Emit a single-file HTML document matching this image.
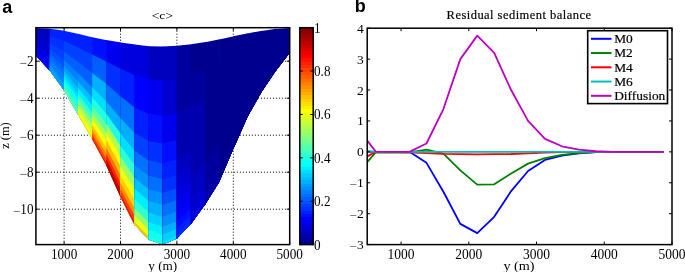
<!DOCTYPE html>
<html><head><meta charset="utf-8"><style>
html,body{margin:0;padding:0;background:#fff;width:685px;height:272px;overflow:hidden;}
svg{will-change:transform;}
text{font-family:"Liberation Serif",serif;fill:#000;}
</style></head><body>
<svg width="685" height="272" viewBox="0 0 685 272" style="display:block;font-family:'Liberation Serif',serif;"><defs><linearGradient id="cbg" x1="0" y1="1" x2="0" y2="0"><stop offset="0.00000" stop-color="#00008f"/><stop offset="0.01562" stop-color="#00008f"/><stop offset="0.01562" stop-color="#00009f"/><stop offset="0.03125" stop-color="#00009f"/><stop offset="0.03125" stop-color="#0000af"/><stop offset="0.04688" stop-color="#0000af"/><stop offset="0.04688" stop-color="#0000bf"/><stop offset="0.06250" stop-color="#0000bf"/><stop offset="0.06250" stop-color="#0000cf"/><stop offset="0.07812" stop-color="#0000cf"/><stop offset="0.07812" stop-color="#0000df"/><stop offset="0.09375" stop-color="#0000df"/><stop offset="0.09375" stop-color="#0000ef"/><stop offset="0.10938" stop-color="#0000ef"/><stop offset="0.10938" stop-color="#0000ff"/><stop offset="0.12500" stop-color="#0000ff"/><stop offset="0.12500" stop-color="#0010ff"/><stop offset="0.14062" stop-color="#0010ff"/><stop offset="0.14062" stop-color="#0020ff"/><stop offset="0.15625" stop-color="#0020ff"/><stop offset="0.15625" stop-color="#0030ff"/><stop offset="0.17188" stop-color="#0030ff"/><stop offset="0.17188" stop-color="#0040ff"/><stop offset="0.18750" stop-color="#0040ff"/><stop offset="0.18750" stop-color="#0050ff"/><stop offset="0.20312" stop-color="#0050ff"/><stop offset="0.20312" stop-color="#0060ff"/><stop offset="0.21875" stop-color="#0060ff"/><stop offset="0.21875" stop-color="#0070ff"/><stop offset="0.23438" stop-color="#0070ff"/><stop offset="0.23438" stop-color="#0080ff"/><stop offset="0.25000" stop-color="#0080ff"/><stop offset="0.25000" stop-color="#008fff"/><stop offset="0.26562" stop-color="#008fff"/><stop offset="0.26562" stop-color="#009fff"/><stop offset="0.28125" stop-color="#009fff"/><stop offset="0.28125" stop-color="#00afff"/><stop offset="0.29688" stop-color="#00afff"/><stop offset="0.29688" stop-color="#00bfff"/><stop offset="0.31250" stop-color="#00bfff"/><stop offset="0.31250" stop-color="#00cfff"/><stop offset="0.32812" stop-color="#00cfff"/><stop offset="0.32812" stop-color="#00dfff"/><stop offset="0.34375" stop-color="#00dfff"/><stop offset="0.34375" stop-color="#00efff"/><stop offset="0.35938" stop-color="#00efff"/><stop offset="0.35938" stop-color="#00ffff"/><stop offset="0.37500" stop-color="#00ffff"/><stop offset="0.37500" stop-color="#10ffef"/><stop offset="0.39062" stop-color="#10ffef"/><stop offset="0.39062" stop-color="#20ffdf"/><stop offset="0.40625" stop-color="#20ffdf"/><stop offset="0.40625" stop-color="#30ffcf"/><stop offset="0.42188" stop-color="#30ffcf"/><stop offset="0.42188" stop-color="#40ffbf"/><stop offset="0.43750" stop-color="#40ffbf"/><stop offset="0.43750" stop-color="#50ffaf"/><stop offset="0.45312" stop-color="#50ffaf"/><stop offset="0.45312" stop-color="#60ff9f"/><stop offset="0.46875" stop-color="#60ff9f"/><stop offset="0.46875" stop-color="#70ff8f"/><stop offset="0.48438" stop-color="#70ff8f"/><stop offset="0.48438" stop-color="#80ff80"/><stop offset="0.50000" stop-color="#80ff80"/><stop offset="0.50000" stop-color="#8fff70"/><stop offset="0.51562" stop-color="#8fff70"/><stop offset="0.51562" stop-color="#9fff60"/><stop offset="0.53125" stop-color="#9fff60"/><stop offset="0.53125" stop-color="#afff50"/><stop offset="0.54688" stop-color="#afff50"/><stop offset="0.54688" stop-color="#bfff40"/><stop offset="0.56250" stop-color="#bfff40"/><stop offset="0.56250" stop-color="#cfff30"/><stop offset="0.57812" stop-color="#cfff30"/><stop offset="0.57812" stop-color="#dfff20"/><stop offset="0.59375" stop-color="#dfff20"/><stop offset="0.59375" stop-color="#efff10"/><stop offset="0.60938" stop-color="#efff10"/><stop offset="0.60938" stop-color="#ffff00"/><stop offset="0.62500" stop-color="#ffff00"/><stop offset="0.62500" stop-color="#ffef00"/><stop offset="0.64062" stop-color="#ffef00"/><stop offset="0.64062" stop-color="#ffdf00"/><stop offset="0.65625" stop-color="#ffdf00"/><stop offset="0.65625" stop-color="#ffcf00"/><stop offset="0.67188" stop-color="#ffcf00"/><stop offset="0.67188" stop-color="#ffbf00"/><stop offset="0.68750" stop-color="#ffbf00"/><stop offset="0.68750" stop-color="#ffaf00"/><stop offset="0.70312" stop-color="#ffaf00"/><stop offset="0.70312" stop-color="#ff9f00"/><stop offset="0.71875" stop-color="#ff9f00"/><stop offset="0.71875" stop-color="#ff8f00"/><stop offset="0.73438" stop-color="#ff8f00"/><stop offset="0.73438" stop-color="#ff8000"/><stop offset="0.75000" stop-color="#ff8000"/><stop offset="0.75000" stop-color="#ff7000"/><stop offset="0.76562" stop-color="#ff7000"/><stop offset="0.76562" stop-color="#ff6000"/><stop offset="0.78125" stop-color="#ff6000"/><stop offset="0.78125" stop-color="#ff5000"/><stop offset="0.79688" stop-color="#ff5000"/><stop offset="0.79688" stop-color="#ff4000"/><stop offset="0.81250" stop-color="#ff4000"/><stop offset="0.81250" stop-color="#ff3000"/><stop offset="0.82812" stop-color="#ff3000"/><stop offset="0.82812" stop-color="#ff2000"/><stop offset="0.84375" stop-color="#ff2000"/><stop offset="0.84375" stop-color="#ff1000"/><stop offset="0.85938" stop-color="#ff1000"/><stop offset="0.85938" stop-color="#ff0000"/><stop offset="0.87500" stop-color="#ff0000"/><stop offset="0.87500" stop-color="#ef0000"/><stop offset="0.89062" stop-color="#ef0000"/><stop offset="0.89062" stop-color="#df0000"/><stop offset="0.90625" stop-color="#df0000"/><stop offset="0.90625" stop-color="#cf0000"/><stop offset="0.92188" stop-color="#cf0000"/><stop offset="0.92188" stop-color="#bf0000"/><stop offset="0.93750" stop-color="#bf0000"/><stop offset="0.93750" stop-color="#af0000"/><stop offset="0.95312" stop-color="#af0000"/><stop offset="0.95312" stop-color="#9f0000"/><stop offset="0.96875" stop-color="#9f0000"/><stop offset="0.96875" stop-color="#8f0000"/><stop offset="0.98438" stop-color="#8f0000"/><stop offset="0.98438" stop-color="#800000"/><stop offset="1.00000" stop-color="#800000"/></linearGradient><clipPath id="clipa"><rect x="35.90" y="27.70" width="253.80" height="216.90"/></clipPath><clipPath id="clipb"><rect x="367.20" y="28.20" width="304.80" height="216.40"/></clipPath></defs><g stroke="#000" stroke-width="1" stroke-dasharray="1,2"><line x1="64.10" y1="27.70" x2="64.10" y2="244.60"/><line x1="120.50" y1="27.70" x2="120.50" y2="244.60"/><line x1="176.90" y1="27.70" x2="176.90" y2="244.60"/><line x1="233.30" y1="27.70" x2="233.30" y2="244.60"/><line x1="35.90" y1="61.20" x2="289.70" y2="61.20"/><line x1="35.90" y1="98.20" x2="289.70" y2="98.20"/><line x1="35.90" y1="135.20" x2="289.70" y2="135.20"/><line x1="35.90" y1="172.20" x2="289.70" y2="172.20"/><line x1="35.90" y1="209.20" x2="289.70" y2="209.20"/></g>
<g clip-path="url(#clipa)"><path d="M35.70 28.00L50.51 28.73L50.51 71.24L35.70 55.50Z" fill="#0000bf"/>
<path d="M35.70 32.67L50.51 35.96L50.51 71.24L35.70 55.50Z" fill="#0000bf"/>
<path d="M35.70 37.62L50.51 43.61L50.51 71.24L35.70 55.50Z" fill="#0000cf"/>
<path d="M35.70 41.48L50.51 49.56L50.51 71.24L35.70 55.50Z" fill="#0000cf"/>
<path d="M35.70 44.22L50.51 53.82L50.51 71.24L35.70 55.50Z" fill="#0000df"/>
<path d="M35.70 46.42L50.51 57.22L50.51 71.24L35.70 55.50Z" fill="#0000df"/>
<path d="M35.70 48.35L50.51 60.19L50.51 71.24L35.70 55.50Z" fill="#0000ef"/>
<path d="M35.70 50.00L50.51 62.74L50.51 71.24L35.70 55.50Z" fill="#0000ef"/>
<path d="M35.70 51.65L50.51 65.29L50.51 71.24L35.70 55.50Z" fill="#0000ef"/>
<path d="M35.70 53.03L50.51 67.42L50.51 71.24L35.70 55.50Z" fill="#0000ff"/>
<path d="M35.70 54.12L50.51 69.12L50.51 71.24L35.70 55.50Z" fill="#0000ff"/>
<path d="M35.70 55.09L50.51 70.61L50.51 71.24L35.70 55.50Z" fill="#0000ff"/>
<path d="M49.81 28.70L64.62 30.80L64.62 90.97L49.81 70.50Z" fill="#0020ff"/>
<path d="M49.81 35.81L64.62 41.03L64.62 90.97L49.81 70.50Z" fill="#0030ff"/>
<path d="M49.81 43.33L64.62 51.86L64.62 90.97L49.81 70.50Z" fill="#0040ff"/>
<path d="M49.81 49.18L64.62 60.28L64.62 90.97L49.81 70.50Z" fill="#0050ff"/>
<path d="M49.81 53.36L64.62 66.30L64.62 90.97L49.81 70.50Z" fill="#0060ff"/>
<path d="M49.81 56.71L64.62 71.11L64.62 90.97L49.81 70.50Z" fill="#0070ff"/>
<path d="M49.81 59.63L64.62 75.32L64.62 90.97L49.81 70.50Z" fill="#0080ff"/>
<path d="M49.81 62.14L64.62 78.93L64.62 90.97L49.81 70.50Z" fill="#0080ff"/>
<path d="M49.81 64.65L64.62 82.54L64.62 90.97L49.81 70.50Z" fill="#008fff"/>
<path d="M49.81 66.74L64.62 85.55L64.62 90.97L49.81 70.50Z" fill="#009fff"/>
<path d="M49.81 68.41L64.62 87.96L64.62 90.97L49.81 70.50Z" fill="#009fff"/>
<path d="M49.81 69.87L64.62 90.06L64.62 90.97L49.81 70.50Z" fill="#00afff"/>
<path d="M63.92 30.70L78.73 33.95L78.73 115.72L63.92 90.00Z" fill="#0020ff"/>
<path d="M63.92 40.78L78.73 47.85L78.73 115.72L63.92 90.00Z" fill="#0040ff"/>
<path d="M63.92 51.45L78.73 62.57L78.73 115.72L63.92 90.00Z" fill="#0060ff"/>
<path d="M63.92 59.76L78.73 74.02L78.73 115.72L63.92 90.00Z" fill="#0080ff"/>
<path d="M63.92 65.69L78.73 82.19L78.73 115.72L63.92 90.00Z" fill="#009fff"/>
<path d="M63.92 70.43L78.73 88.73L78.73 115.72L63.92 90.00Z" fill="#00bfff"/>
<path d="M63.92 74.58L78.73 94.46L78.73 115.72L63.92 90.00Z" fill="#00dfff"/>
<path d="M63.92 78.14L78.73 99.36L78.73 115.72L63.92 90.00Z" fill="#00ffff"/>
<path d="M63.92 81.70L78.73 104.27L78.73 115.72L63.92 90.00Z" fill="#20ffdf"/>
<path d="M63.92 84.66L78.73 108.36L78.73 115.72L63.92 90.00Z" fill="#40ffbf"/>
<path d="M63.92 87.03L78.73 111.63L78.73 115.72L63.92 90.00Z" fill="#50ffaf"/>
<path d="M63.92 89.11L78.73 114.49L78.73 115.72L63.92 90.00Z" fill="#60ff9f"/>
<path d="M78.03 33.80L92.84 37.47L92.84 140.22L78.03 114.50Z" fill="#0020ff"/>
<path d="M78.03 47.52L92.84 54.94L92.84 140.22L78.03 114.50Z" fill="#0040ff"/>
<path d="M78.03 62.04L92.84 73.43L92.84 140.22L78.03 114.50Z" fill="#0060ff"/>
<path d="M78.03 73.34L92.84 87.82L92.84 140.22L78.03 114.50Z" fill="#008fff"/>
<path d="M78.03 81.41L92.84 98.09L92.84 140.22L78.03 114.50Z" fill="#00bfff"/>
<path d="M78.03 87.87L92.84 106.31L92.84 140.22L78.03 114.50Z" fill="#00efff"/>
<path d="M78.03 93.52L92.84 113.50L92.84 140.22L78.03 114.50Z" fill="#30ffcf"/>
<path d="M78.03 98.36L92.84 119.67L92.84 140.22L78.03 114.50Z" fill="#70ff8f"/>
<path d="M78.03 103.20L92.84 125.83L92.84 140.22L78.03 114.50Z" fill="#afff50"/>
<path d="M78.03 107.24L92.84 130.97L92.84 140.22L78.03 114.50Z" fill="#dfff20"/>
<path d="M78.03 110.46L92.84 135.08L92.84 140.22L78.03 114.50Z" fill="#ffff00"/>
<path d="M78.03 113.29L92.84 138.67L92.84 140.22L78.03 114.50Z" fill="#ffdf00"/>
<path d="M92.14 37.30L106.96 40.24L106.96 166.29L92.14 139.00Z" fill="#0010ff"/>
<path d="M92.14 54.59L106.96 61.67L106.96 166.29L92.14 139.00Z" fill="#0060ff"/>
<path d="M92.14 72.89L106.96 84.36L106.96 166.29L92.14 139.00Z" fill="#00afff"/>
<path d="M92.14 87.13L106.96 102.00L106.96 166.29L92.14 139.00Z" fill="#00dfff"/>
<path d="M92.14 97.30L106.96 114.61L106.96 166.29L92.14 139.00Z" fill="#20ffdf"/>
<path d="M92.14 105.44L106.96 124.69L106.96 166.29L92.14 139.00Z" fill="#60ff9f"/>
<path d="M92.14 112.56L106.96 133.52L106.96 166.29L92.14 139.00Z" fill="#afff50"/>
<path d="M92.14 118.66L106.96 141.08L106.96 166.29L92.14 139.00Z" fill="#ffff00"/>
<path d="M92.14 124.76L106.96 148.64L106.96 166.29L92.14 139.00Z" fill="#ffbf00"/>
<path d="M92.14 129.85L106.96 154.95L106.96 166.29L92.14 139.00Z" fill="#ff8000"/>
<path d="M92.14 133.91L106.96 159.99L106.96 166.29L92.14 139.00Z" fill="#ff4000"/>
<path d="M92.14 137.47L106.96 164.40L106.96 166.29L92.14 139.00Z" fill="#ff0000"/>
<path d="M106.26 40.10L121.07 42.51L121.07 198.06L106.26 165.00Z" fill="#0000ef"/>
<path d="M106.26 61.33L121.07 68.96L121.07 198.06L106.26 165.00Z" fill="#0030ff"/>
<path d="M106.26 83.81L121.07 96.96L121.07 198.06L106.26 165.00Z" fill="#0070ff"/>
<path d="M106.26 101.30L121.07 118.73L121.07 198.06L106.26 165.00Z" fill="#00afff"/>
<path d="M106.26 113.79L121.07 134.29L121.07 198.06L106.26 165.00Z" fill="#20ffdf"/>
<path d="M106.26 123.78L121.07 146.73L121.07 198.06L106.26 165.00Z" fill="#afff50"/>
<path d="M106.26 132.53L121.07 157.62L121.07 198.06L106.26 165.00Z" fill="#ffff00"/>
<path d="M106.26 140.02L121.07 166.95L121.07 198.06L106.26 165.00Z" fill="#ffbf00"/>
<path d="M106.26 147.51L121.07 176.29L121.07 198.06L106.26 165.00Z" fill="#ff7000"/>
<path d="M106.26 153.76L121.07 184.06L121.07 198.06L106.26 165.00Z" fill="#ff2000"/>
<path d="M106.26 158.75L121.07 190.29L121.07 198.06L106.26 165.00Z" fill="#cf0000"/>
<path d="M106.26 163.13L121.07 195.73L121.07 198.06L106.26 165.00Z" fill="#9f0000"/>
<path d="M120.37 42.40L135.18 44.60L135.18 225.89L120.37 196.50Z" fill="#0000df"/>
<path d="M120.37 68.60L135.18 75.42L135.18 225.89L120.37 196.50Z" fill="#0020ff"/>
<path d="M120.37 96.33L135.18 108.05L135.18 225.89L120.37 196.50Z" fill="#0070ff"/>
<path d="M120.37 117.91L135.18 133.43L135.18 225.89L120.37 196.50Z" fill="#00afff"/>
<path d="M120.37 133.32L135.18 151.56L135.18 225.89L120.37 196.50Z" fill="#00dfff"/>
<path d="M120.37 145.65L135.18 166.06L135.18 225.89L120.37 196.50Z" fill="#30ffcf"/>
<path d="M120.37 156.43L135.18 178.75L135.18 225.89L120.37 196.50Z" fill="#9fff60"/>
<path d="M120.37 165.68L135.18 189.63L135.18 225.89L120.37 196.50Z" fill="#efff10"/>
<path d="M120.37 174.93L135.18 200.51L135.18 225.89L120.37 196.50Z" fill="#ffcf00"/>
<path d="M120.37 182.63L135.18 209.57L135.18 225.89L120.37 196.50Z" fill="#ff8f00"/>
<path d="M120.37 188.79L135.18 216.82L135.18 225.89L120.37 196.50Z" fill="#ff4000"/>
<path d="M120.37 194.19L135.18 223.17L135.18 225.89L120.37 196.50Z" fill="#ff0000"/>
<path d="M134.48 44.50L149.29 46.28L149.29 240.24L134.48 224.50Z" fill="#0000df"/>
<path d="M134.48 75.10L149.29 79.26L149.29 240.24L134.48 224.50Z" fill="#0000ff"/>
<path d="M134.48 107.50L149.29 114.17L149.29 240.24L134.48 224.50Z" fill="#0020ff"/>
<path d="M134.48 132.70L149.29 141.32L149.29 240.24L134.48 224.50Z" fill="#0040ff"/>
<path d="M134.48 150.70L149.29 160.72L149.29 240.24L134.48 224.50Z" fill="#0070ff"/>
<path d="M134.48 165.10L149.29 176.24L149.29 240.24L134.48 224.50Z" fill="#008fff"/>
<path d="M134.48 177.70L149.29 189.81L149.29 240.24L134.48 224.50Z" fill="#00bfff"/>
<path d="M134.48 188.50L149.29 201.45L149.29 240.24L134.48 224.50Z" fill="#00efff"/>
<path d="M134.48 199.30L149.29 213.09L149.29 240.24L134.48 224.50Z" fill="#30ffcf"/>
<path d="M134.48 208.30L149.29 222.79L149.29 240.24L134.48 224.50Z" fill="#8fff70"/>
<path d="M134.48 215.50L149.29 230.55L149.29 240.24L134.48 224.50Z" fill="#efff10"/>
<path d="M134.48 221.80L149.29 237.33L149.29 240.24L134.48 224.50Z" fill="#ffbf00"/>
<path d="M148.59 46.20L163.40 46.62L163.40 244.75L148.59 239.50Z" fill="#0000bf"/>
<path d="M148.59 79.06L163.40 80.30L163.40 244.75L148.59 239.50Z" fill="#0000ef"/>
<path d="M148.59 113.86L163.40 115.96L163.40 244.75L148.59 239.50Z" fill="#0010ff"/>
<path d="M148.59 140.92L163.40 143.70L163.40 244.75L148.59 239.50Z" fill="#0030ff"/>
<path d="M148.59 160.25L163.40 163.52L163.40 244.75L148.59 239.50Z" fill="#0050ff"/>
<path d="M148.59 175.71L163.40 179.37L163.40 244.75L148.59 239.50Z" fill="#0070ff"/>
<path d="M148.59 189.24L163.40 193.23L163.40 244.75L148.59 239.50Z" fill="#008fff"/>
<path d="M148.59 200.84L163.40 205.12L163.40 244.75L148.59 239.50Z" fill="#00afff"/>
<path d="M148.59 212.44L163.40 217.01L163.40 244.75L148.59 239.50Z" fill="#00cfff"/>
<path d="M148.59 222.10L163.40 226.92L163.40 244.75L148.59 239.50Z" fill="#00efff"/>
<path d="M148.59 229.83L163.40 234.84L163.40 244.75L148.59 239.50Z" fill="#10ffef"/>
<path d="M148.59 236.60L163.40 241.78L163.40 244.75L148.59 239.50Z" fill="#20ffdf"/>
<path d="M162.70 46.60L177.51 45.76L177.51 238.20L162.70 244.50Z" fill="#0000bf"/>
<path d="M162.70 80.24L177.51 78.48L177.51 238.20L162.70 244.50Z" fill="#0000cf"/>
<path d="M162.70 115.87L177.51 113.12L177.51 238.20L162.70 244.50Z" fill="#0000ef"/>
<path d="M162.70 143.57L177.51 140.06L177.51 238.20L162.70 244.50Z" fill="#0010ff"/>
<path d="M162.70 163.36L177.51 159.30L177.51 238.20L162.70 244.50Z" fill="#0020ff"/>
<path d="M162.70 179.19L177.51 174.70L177.51 238.20L162.70 244.50Z" fill="#0030ff"/>
<path d="M162.70 193.05L177.51 188.17L177.51 238.20L162.70 244.50Z" fill="#0050ff"/>
<path d="M162.70 204.92L177.51 199.71L177.51 238.20L162.70 244.50Z" fill="#0070ff"/>
<path d="M162.70 216.79L177.51 211.26L177.51 238.20L162.70 244.50Z" fill="#008fff"/>
<path d="M162.70 226.69L177.51 220.88L177.51 238.20L162.70 244.50Z" fill="#00afff"/>
<path d="M162.70 234.60L177.51 228.58L177.51 238.20L162.70 244.50Z" fill="#00cfff"/>
<path d="M162.70 241.53L177.51 235.32L177.51 238.20L162.70 244.50Z" fill="#00dfff"/>
<path d="M176.81 45.80L191.62 44.23L191.62 223.28L176.81 238.50Z" fill="#00009f"/>
<path d="M176.81 78.56L191.62 74.66L191.62 223.28L176.81 238.50Z" fill="#00009f"/>
<path d="M176.81 113.24L191.62 106.89L191.62 223.28L176.81 238.50Z" fill="#0000af"/>
<path d="M176.81 140.22L191.62 131.96L191.62 223.28L176.81 238.50Z" fill="#0000af"/>
<path d="M176.81 159.49L191.62 149.87L191.62 223.28L176.81 238.50Z" fill="#0000bf"/>
<path d="M176.81 174.91L191.62 164.19L191.62 223.28L176.81 238.50Z" fill="#0000cf"/>
<path d="M176.81 188.40L191.62 176.73L191.62 223.28L176.81 238.50Z" fill="#0000df"/>
<path d="M176.81 199.96L191.62 187.47L191.62 223.28L176.81 238.50Z" fill="#0000ef"/>
<path d="M176.81 211.52L191.62 198.21L191.62 223.28L176.81 238.50Z" fill="#0000ff"/>
<path d="M176.81 221.16L191.62 207.17L191.62 223.28L176.81 238.50Z" fill="#0010ff"/>
<path d="M176.81 228.86L191.62 214.33L191.62 223.28L176.81 238.50Z" fill="#0020ff"/>
<path d="M176.81 235.61L191.62 220.59L191.62 223.28L176.81 238.50Z" fill="#0030ff"/>
<path d="M190.92 44.30L205.73 42.10L205.73 203.53L190.92 224.00Z" fill="#00008f"/>
<path d="M190.92 74.85L205.73 69.54L205.73 203.53L190.92 224.00Z" fill="#00009f"/>
<path d="M190.92 107.19L205.73 98.60L205.73 203.53L190.92 224.00Z" fill="#0000af"/>
<path d="M190.92 132.35L205.73 121.20L205.73 203.53L190.92 224.00Z" fill="#0000af"/>
<path d="M190.92 150.32L205.73 137.34L205.73 203.53L190.92 224.00Z" fill="#0000af"/>
<path d="M190.92 164.70L205.73 150.26L205.73 203.53L190.92 224.00Z" fill="#0000af"/>
<path d="M190.92 177.28L205.73 161.56L205.73 203.53L190.92 224.00Z" fill="#0000bf"/>
<path d="M190.92 188.06L205.73 171.25L205.73 203.53L190.92 224.00Z" fill="#0000bf"/>
<path d="M190.92 198.84L205.73 180.93L205.73 203.53L190.92 224.00Z" fill="#0000cf"/>
<path d="M190.92 207.83L205.73 189.00L205.73 203.53L190.92 224.00Z" fill="#0000cf"/>
<path d="M190.92 215.01L205.73 195.46L205.73 203.53L190.92 224.00Z" fill="#0000df"/>
<path d="M190.92 221.30L205.73 201.11L205.73 203.53L190.92 224.00Z" fill="#0000df"/>
<path d="M205.03 42.20L219.84 39.37L219.84 180.88L205.03 204.50Z" fill="#00008f"/>
<path d="M205.03 69.79L219.84 63.42L219.84 180.88L205.03 204.50Z" fill="#00008f"/>
<path d="M205.03 99.00L219.84 88.90L219.84 180.88L205.03 204.50Z" fill="#00008f"/>
<path d="M205.03 121.73L219.84 108.71L219.84 180.88L205.03 204.50Z" fill="#00008f"/>
<path d="M205.03 137.96L219.84 122.86L219.84 180.88L205.03 204.50Z" fill="#00008f"/>
<path d="M205.03 150.94L219.84 134.18L219.84 180.88L205.03 204.50Z" fill="#00008f"/>
<path d="M205.03 162.30L219.84 144.09L219.84 180.88L205.03 204.50Z" fill="#00009f"/>
<path d="M205.03 172.04L219.84 152.58L219.84 180.88L205.03 204.50Z" fill="#00009f"/>
<path d="M205.03 181.78L219.84 161.07L219.84 180.88L205.03 204.50Z" fill="#00009f"/>
<path d="M205.03 189.89L219.84 168.15L219.84 180.88L205.03 204.50Z" fill="#00009f"/>
<path d="M205.03 196.38L219.84 173.81L219.84 180.88L205.03 204.50Z" fill="#0000af"/>
<path d="M205.03 202.07L219.84 178.76L219.84 180.88L205.03 204.50Z" fill="#0000af"/>
<path d="M219.14 39.50L233.96 36.14L233.96 147.36L219.14 182.00Z" fill="#00008f"/>
<path d="M219.14 63.73L233.96 55.05L233.96 147.36L219.14 182.00Z" fill="#00008f"/>
<path d="M219.14 89.38L233.96 75.07L233.96 147.36L219.14 182.00Z" fill="#00008f"/>
<path d="M219.14 109.33L233.96 90.64L233.96 147.36L219.14 182.00Z" fill="#00008f"/>
<path d="M219.14 123.57L233.96 101.76L233.96 147.36L219.14 182.00Z" fill="#00008f"/>
<path d="M219.14 134.98L233.96 110.66L233.96 147.36L219.14 182.00Z" fill="#00008f"/>
<path d="M219.14 144.95L233.96 118.45L233.96 147.36L219.14 182.00Z" fill="#00008f"/>
<path d="M219.14 153.50L233.96 125.12L233.96 147.36L219.14 182.00Z" fill="#00008f"/>
<path d="M219.14 162.05L233.96 131.79L233.96 147.36L219.14 182.00Z" fill="#00008f"/>
<path d="M219.14 169.18L233.96 137.35L233.96 147.36L219.14 182.00Z" fill="#00008f"/>
<path d="M219.14 174.88L233.96 141.80L233.96 147.36L219.14 182.00Z" fill="#00008f"/>
<path d="M219.14 179.86L233.96 145.69L233.96 147.36L219.14 182.00Z" fill="#00009f"/>
<path d="M233.26 36.30L248.07 33.26L248.07 115.41L233.26 149.00Z" fill="#00008f"/>
<path d="M233.26 55.46L248.07 47.22L248.07 115.41L233.26 149.00Z" fill="#00008f"/>
<path d="M233.26 75.75L248.07 62.01L248.07 115.41L233.26 149.00Z" fill="#00008f"/>
<path d="M233.26 91.52L248.07 73.51L248.07 115.41L233.26 149.00Z" fill="#00008f"/>
<path d="M233.26 102.79L248.07 81.73L248.07 115.41L233.26 149.00Z" fill="#00008f"/>
<path d="M233.26 111.81L248.07 88.30L248.07 115.41L233.26 149.00Z" fill="#00008f"/>
<path d="M233.26 119.70L248.07 94.05L248.07 115.41L233.26 149.00Z" fill="#00008f"/>
<path d="M233.26 126.46L248.07 98.98L248.07 115.41L233.26 149.00Z" fill="#00008f"/>
<path d="M233.26 133.22L248.07 103.91L248.07 115.41L233.26 149.00Z" fill="#00008f"/>
<path d="M233.26 138.86L248.07 108.02L248.07 115.41L233.26 149.00Z" fill="#00008f"/>
<path d="M233.26 143.37L248.07 111.30L248.07 115.41L233.26 149.00Z" fill="#00008f"/>
<path d="M233.26 147.31L248.07 114.18L248.07 115.41L233.26 149.00Z" fill="#00008f"/>
<path d="M247.37 33.40L262.18 30.78L262.18 90.76L247.37 117.00Z" fill="#00008f"/>
<path d="M247.37 47.61L262.18 40.97L262.18 90.76L247.37 117.00Z" fill="#00008f"/>
<path d="M247.37 62.66L262.18 51.77L262.18 90.76L247.37 117.00Z" fill="#00008f"/>
<path d="M247.37 74.36L262.18 60.17L262.18 90.76L247.37 117.00Z" fill="#00008f"/>
<path d="M247.37 82.72L262.18 66.17L262.18 90.76L247.37 117.00Z" fill="#00008f"/>
<path d="M247.37 89.41L262.18 70.97L262.18 90.76L247.37 117.00Z" fill="#00008f"/>
<path d="M247.37 95.26L262.18 75.16L262.18 90.76L247.37 117.00Z" fill="#00008f"/>
<path d="M247.37 100.28L262.18 78.76L262.18 90.76L247.37 117.00Z" fill="#00008f"/>
<path d="M247.37 105.30L262.18 82.36L262.18 90.76L247.37 117.00Z" fill="#00008f"/>
<path d="M247.37 109.48L262.18 85.36L262.18 90.76L247.37 117.00Z" fill="#00008f"/>
<path d="M247.37 112.82L262.18 87.76L262.18 90.76L247.37 117.00Z" fill="#00008f"/>
<path d="M247.37 115.75L262.18 89.86L262.18 90.76L247.37 117.00Z" fill="#00008f"/>
<path d="M261.48 30.90L276.29 28.80L276.29 69.96L261.48 92.00Z" fill="#00008f"/>
<path d="M261.48 41.29L276.29 35.80L276.29 69.96L261.48 92.00Z" fill="#00008f"/>
<path d="M261.48 52.28L276.29 43.21L276.29 69.96L261.48 92.00Z" fill="#00008f"/>
<path d="M261.48 60.84L276.29 48.97L276.29 69.96L261.48 92.00Z" fill="#00008f"/>
<path d="M261.48 66.95L276.29 53.08L276.29 69.96L261.48 92.00Z" fill="#00008f"/>
<path d="M261.48 71.84L276.29 56.38L276.29 69.96L261.48 92.00Z" fill="#00008f"/>
<path d="M261.48 76.11L276.29 59.26L276.29 69.96L261.48 92.00Z" fill="#00008f"/>
<path d="M261.48 79.78L276.29 61.73L276.29 69.96L261.48 92.00Z" fill="#00008f"/>
<path d="M261.48 83.45L276.29 64.20L276.29 69.96L261.48 92.00Z" fill="#00008f"/>
<path d="M261.48 86.50L276.29 66.25L276.29 69.96L261.48 92.00Z" fill="#00008f"/>
<path d="M261.48 88.94L276.29 67.90L276.29 69.96L261.48 92.00Z" fill="#00008f"/>
<path d="M261.48 91.08L276.29 69.34L276.29 69.96L261.48 92.00Z" fill="#00008f"/>
<path d="M275.59 28.90L289.70 28.00L289.70 52.80L275.59 71.00Z" fill="#00008f"/>
<path d="M275.59 36.06L289.70 32.22L289.70 52.80L275.59 71.00Z" fill="#00008f"/>
<path d="M275.59 43.63L289.70 36.68L289.70 52.80L275.59 71.00Z" fill="#00008f"/>
<path d="M275.59 49.53L289.70 40.15L289.70 52.80L275.59 71.00Z" fill="#00008f"/>
<path d="M275.59 53.74L289.70 42.63L289.70 52.80L275.59 71.00Z" fill="#00008f"/>
<path d="M275.59 57.11L289.70 44.62L289.70 52.80L275.59 71.00Z" fill="#00008f"/>
<path d="M275.59 60.05L289.70 46.35L289.70 52.80L275.59 71.00Z" fill="#00008f"/>
<path d="M275.59 62.58L289.70 47.84L289.70 52.80L275.59 71.00Z" fill="#00008f"/>
<path d="M275.59 65.11L289.70 49.33L289.70 52.80L275.59 71.00Z" fill="#00008f"/>
<path d="M275.59 67.21L289.70 50.57L289.70 52.80L275.59 71.00Z" fill="#00008f"/>
<path d="M275.59 68.89L289.70 51.56L289.70 52.80L275.59 71.00Z" fill="#00008f"/>
<path d="M275.59 70.37L289.70 52.43L289.70 52.80L275.59 71.00Z" fill="#00008f"/></g>
<path d="M64.10 244.60v-3M64.10 27.70v3M120.50 244.60v-3M120.50 27.70v3M176.90 244.60v-3M176.90 27.70v3M233.30 244.60v-3M233.30 27.70v3M289.70 244.60v-3M289.70 27.70v3M35.90 61.20h3M289.70 61.20h-3M35.90 98.20h3M289.70 98.20h-3M35.90 135.20h3M289.70 135.20h-3M35.90 172.20h3M289.70 172.20h-3M35.90 209.20h3M289.70 209.20h-3" stroke="#000" stroke-width="1" fill="none"/>
<rect x="35.90" y="27.70" width="253.80" height="216.90" fill="none" stroke="#000" stroke-width="1.5"/>
<text transform="translate(64.10 258.90) scale(1.000 1.120)" text-anchor="middle" font-size="13.20" >1000</text>
<text transform="translate(120.50 258.90) scale(1.000 1.120)" text-anchor="middle" font-size="13.20" >2000</text>
<text transform="translate(176.90 258.90) scale(1.000 1.120)" text-anchor="middle" font-size="13.20" >3000</text>
<text transform="translate(233.30 258.90) scale(1.000 1.120)" text-anchor="middle" font-size="13.20" >4000</text>
<text transform="translate(289.70 258.90) scale(1.000 1.120)" text-anchor="middle" font-size="13.20" >5000</text>
<text transform="translate(33.50 66.10) scale(1.000 1.120)" text-anchor="end" font-size="13.20" ><tspan dy="1.60" fill-opacity="0.75">&#8722;</tspan><tspan dy="-1.60">2</tspan></text>
<text transform="translate(33.50 103.10) scale(1.000 1.120)" text-anchor="end" font-size="13.20" ><tspan dy="1.60" fill-opacity="0.75">&#8722;</tspan><tspan dy="-1.60">4</tspan></text>
<text transform="translate(33.50 140.10) scale(1.000 1.120)" text-anchor="end" font-size="13.20" ><tspan dy="1.60" fill-opacity="0.75">&#8722;</tspan><tspan dy="-1.60">6</tspan></text>
<text transform="translate(33.50 177.10) scale(1.000 1.120)" text-anchor="end" font-size="13.20" ><tspan dy="1.60" fill-opacity="0.75">&#8722;</tspan><tspan dy="-1.60">8</tspan></text>
<text transform="translate(33.50 214.10) scale(1.000 1.120)" text-anchor="end" font-size="13.20" ><tspan dy="1.60" fill-opacity="0.75">&#8722;</tspan><tspan dy="-1.60">10</tspan></text>
<text x="162.80" y="270.00" text-anchor="middle" font-size="13.20" >y (m)</text>
<text transform="translate(8.7,135.5) rotate(-90)" text-anchor="middle" font-size="12.4">z (m)</text>
<text transform="translate(155.60 20.30) scale(1.000 0.900)" text-anchor="middle" font-size="13.80" >&lt;</text>
<text transform="translate(169.20 20.30) scale(1.000 0.900)" text-anchor="middle" font-size="13.80" >&gt;</text>
<text transform="translate(162.30 18.70) scale(1.000 0.780)" text-anchor="middle" font-size="13.80" >c</text>
<rect x="299.80" y="27.70" width="13.40" height="216.90" fill="url(#cbg)"/>
<text transform="translate(314.00 249.50) scale(1.000 1.120)" text-anchor="start" font-size="13.20" >0</text>
<text transform="translate(314.00 206.12) scale(1.000 1.120)" text-anchor="start" font-size="13.20" >0.2</text>
<text transform="translate(314.00 162.74) scale(1.000 1.120)" text-anchor="start" font-size="13.20" >0.4</text>
<text transform="translate(314.00 119.36) scale(1.000 1.120)" text-anchor="start" font-size="13.20" >0.6</text>
<text transform="translate(314.00 75.98) scale(1.000 1.120)" text-anchor="start" font-size="13.20" >0.8</text>
<text transform="translate(314.00 32.60) scale(1.000 1.120)" text-anchor="start" font-size="13.20" >1</text>
<path d="M299.80 244.60h3M313.20 244.60h-3M299.80 201.22h3M313.20 201.22h-3M299.80 157.84h3M313.20 157.84h-3M299.80 114.46h3M313.20 114.46h-3M299.80 71.08h3M313.20 71.08h-3M299.80 27.70h3M313.20 27.70h-3" stroke="#000" stroke-width="1" fill="none"/>
<rect x="299.80" y="27.70" width="13.40" height="216.90" fill="none" stroke="#000" stroke-width="1.5"/>
<g clip-path="url(#clipb)"><polyline points="341.80,150.62 358.73,151.24 375.67,151.86 392.60,151.86 409.53,151.86 426.47,162.83 443.40,191.74 460.33,223.89 477.27,233.16 494.20,216.78 511.13,191.12 528.07,171.02 545.00,159.89 561.93,155.57 578.87,153.25 595.80,152.17 612.73,151.86 629.67,151.86 646.60,151.86 663.53,151.86" fill="none" stroke="#0000ff" stroke-width="1.8" stroke-linejoin="round"/>
<polyline points="341.80,161.13 358.73,171.95 375.67,152.48 392.60,152.48 409.53,152.48 426.47,149.69 443.40,153.71 460.33,170.41 477.27,184.63 494.20,184.32 511.13,173.50 528.07,163.60 545.00,158.04 561.93,154.95 578.87,153.09 595.80,152.17 612.73,151.86 629.67,151.86 646.60,151.86 663.53,151.86" fill="none" stroke="#008000" stroke-width="1.8" stroke-linejoin="round"/>
<polyline points="341.80,154.95 358.73,161.13 375.67,151.86 392.60,151.86 409.53,152.32 426.47,153.09 443.40,153.87 460.33,154.18 477.27,154.33 494.20,154.18 511.13,154.02 528.07,153.40 545.00,152.48 561.93,152.01 578.87,151.86 595.80,151.86 612.73,151.86 629.67,151.86 646.60,151.86 663.53,151.86" fill="none" stroke="#ff0000" stroke-width="1.8" stroke-linejoin="round"/>
<polyline points="341.80,150.31 358.73,150.00 375.67,151.86 392.60,151.86 409.53,151.86 426.47,151.86 443.40,151.86 460.33,151.86 477.27,151.86 494.20,151.86 511.13,151.86 528.07,151.86 545.00,151.86 561.93,151.86 578.87,151.86 595.80,151.86 612.73,151.86 629.67,151.86 646.60,151.86 663.53,151.86" fill="none" stroke="#00bfbf" stroke-width="1.8" stroke-linejoin="round"/>
<polyline points="341.80,142.58 358.73,129.60 375.67,151.55 392.60,151.86 409.53,151.86 426.47,143.51 443.40,109.04 460.33,59.11 477.27,35.62 494.20,52.93 511.13,90.03 528.07,120.94 545.00,138.87 561.93,146.29 578.87,149.69 595.80,151.24 612.73,151.86 629.67,151.86 646.60,151.86 663.53,151.86" fill="none" stroke="#bf00bf" stroke-width="1.8" stroke-linejoin="round"/></g>
<path d="M401.07 244.60v-3M401.07 28.20v3M468.80 244.60v-3M468.80 28.20v3M536.53 244.60v-3M536.53 28.20v3M604.27 244.60v-3M604.27 28.20v3M672.00 244.60v-3M672.00 28.20v3M367.20 244.60h3M672.00 244.60h-3M367.20 213.69h3M672.00 213.69h-3M367.20 182.77h3M672.00 182.77h-3M367.20 151.86h3M672.00 151.86h-3M367.20 120.94h3M672.00 120.94h-3M367.20 90.03h3M672.00 90.03h-3M367.20 59.11h3M672.00 59.11h-3M367.20 28.20h3M672.00 28.20h-3" stroke="#000" stroke-width="1" fill="none"/>
<rect x="367.20" y="28.20" width="304.80" height="216.40" fill="none" stroke="#000" stroke-width="1.5"/>
<text transform="translate(401.07 258.90) scale(1.000 1.120)" text-anchor="middle" font-size="13.50" >1000</text>
<text transform="translate(468.80 258.90) scale(1.000 1.120)" text-anchor="middle" font-size="13.50" >2000</text>
<text transform="translate(536.53 258.90) scale(1.000 1.120)" text-anchor="middle" font-size="13.50" >3000</text>
<text transform="translate(604.27 258.90) scale(1.000 1.120)" text-anchor="middle" font-size="13.50" >4000</text>
<text transform="translate(672.00 258.90) scale(1.000 1.120)" text-anchor="middle" font-size="13.50" >5000</text>
<text x="363.80" y="249.10" text-anchor="end" font-size="13.50" ><tspan dy="1.60" fill-opacity="0.75">&#8722;</tspan><tspan dy="-1.60">3</tspan></text>
<text x="363.80" y="218.19" text-anchor="end" font-size="13.50" ><tspan dy="1.60" fill-opacity="0.75">&#8722;</tspan><tspan dy="-1.60">2</tspan></text>
<text x="363.80" y="187.27" text-anchor="end" font-size="13.50" ><tspan dy="1.60" fill-opacity="0.75">&#8722;</tspan><tspan dy="-1.60">1</tspan></text>
<text x="363.80" y="156.36" text-anchor="end" font-size="13.50" >0</text>
<text x="363.80" y="125.44" text-anchor="end" font-size="13.50" >1</text>
<text x="363.80" y="94.53" text-anchor="end" font-size="13.50" >2</text>
<text x="363.80" y="63.61" text-anchor="end" font-size="13.50" >3</text>
<text x="363.80" y="32.70" text-anchor="end" font-size="13.50" >4</text>
<text transform="translate(519.00 269.60) scale(1.000 0.860)" text-anchor="middle" font-size="14.20" >y (m)</text>
<text transform="translate(519.00 18.50) scale(0.920 0.920)" text-anchor="middle" font-size="13.60" letter-spacing="0.5" stroke="#000" stroke-width="0.2">Residual sediment balance</text>
<rect x="587.70" y="30.70" width="79.80" height="72.90" fill="#fff" stroke="#000" stroke-width="1.6"/>
<line x1="591" y1="38.80" x2="611.5" y2="38.80" stroke="#0000ff" stroke-width="2"/>
<text transform="translate(614.20 43.10) scale(1.000 0.860)" text-anchor="start" font-size="13.40" stroke="#000" stroke-width="0.2">M0</text>
<line x1="591" y1="53.05" x2="611.5" y2="53.05" stroke="#008000" stroke-width="2"/>
<text transform="translate(614.20 57.35) scale(1.000 0.860)" text-anchor="start" font-size="13.40" stroke="#000" stroke-width="0.2">M2</text>
<line x1="591" y1="67.30" x2="611.5" y2="67.30" stroke="#ff0000" stroke-width="2"/>
<text transform="translate(614.20 71.60) scale(1.000 0.860)" text-anchor="start" font-size="13.40" stroke="#000" stroke-width="0.2">M4</text>
<line x1="591" y1="81.55" x2="611.5" y2="81.55" stroke="#00bfbf" stroke-width="2"/>
<text transform="translate(614.20 85.85) scale(1.000 0.860)" text-anchor="start" font-size="13.40" stroke="#000" stroke-width="0.2">M6</text>
<line x1="591" y1="95.80" x2="611.5" y2="95.80" stroke="#bf00bf" stroke-width="2"/>
<text transform="translate(614.20 100.10) scale(1.000 0.860)" text-anchor="start" font-size="13.40" stroke="#000" stroke-width="0.2">Diffusion</text>
<text x="2.2" y="12.6" font-size="18" font-weight="bold" style="font-family:'Liberation Sans',sans-serif">a</text>
<text x="354.8" y="12.4" font-size="18" font-weight="bold" style="font-family:'Liberation Sans',sans-serif">b</text></svg>
</body></html>
